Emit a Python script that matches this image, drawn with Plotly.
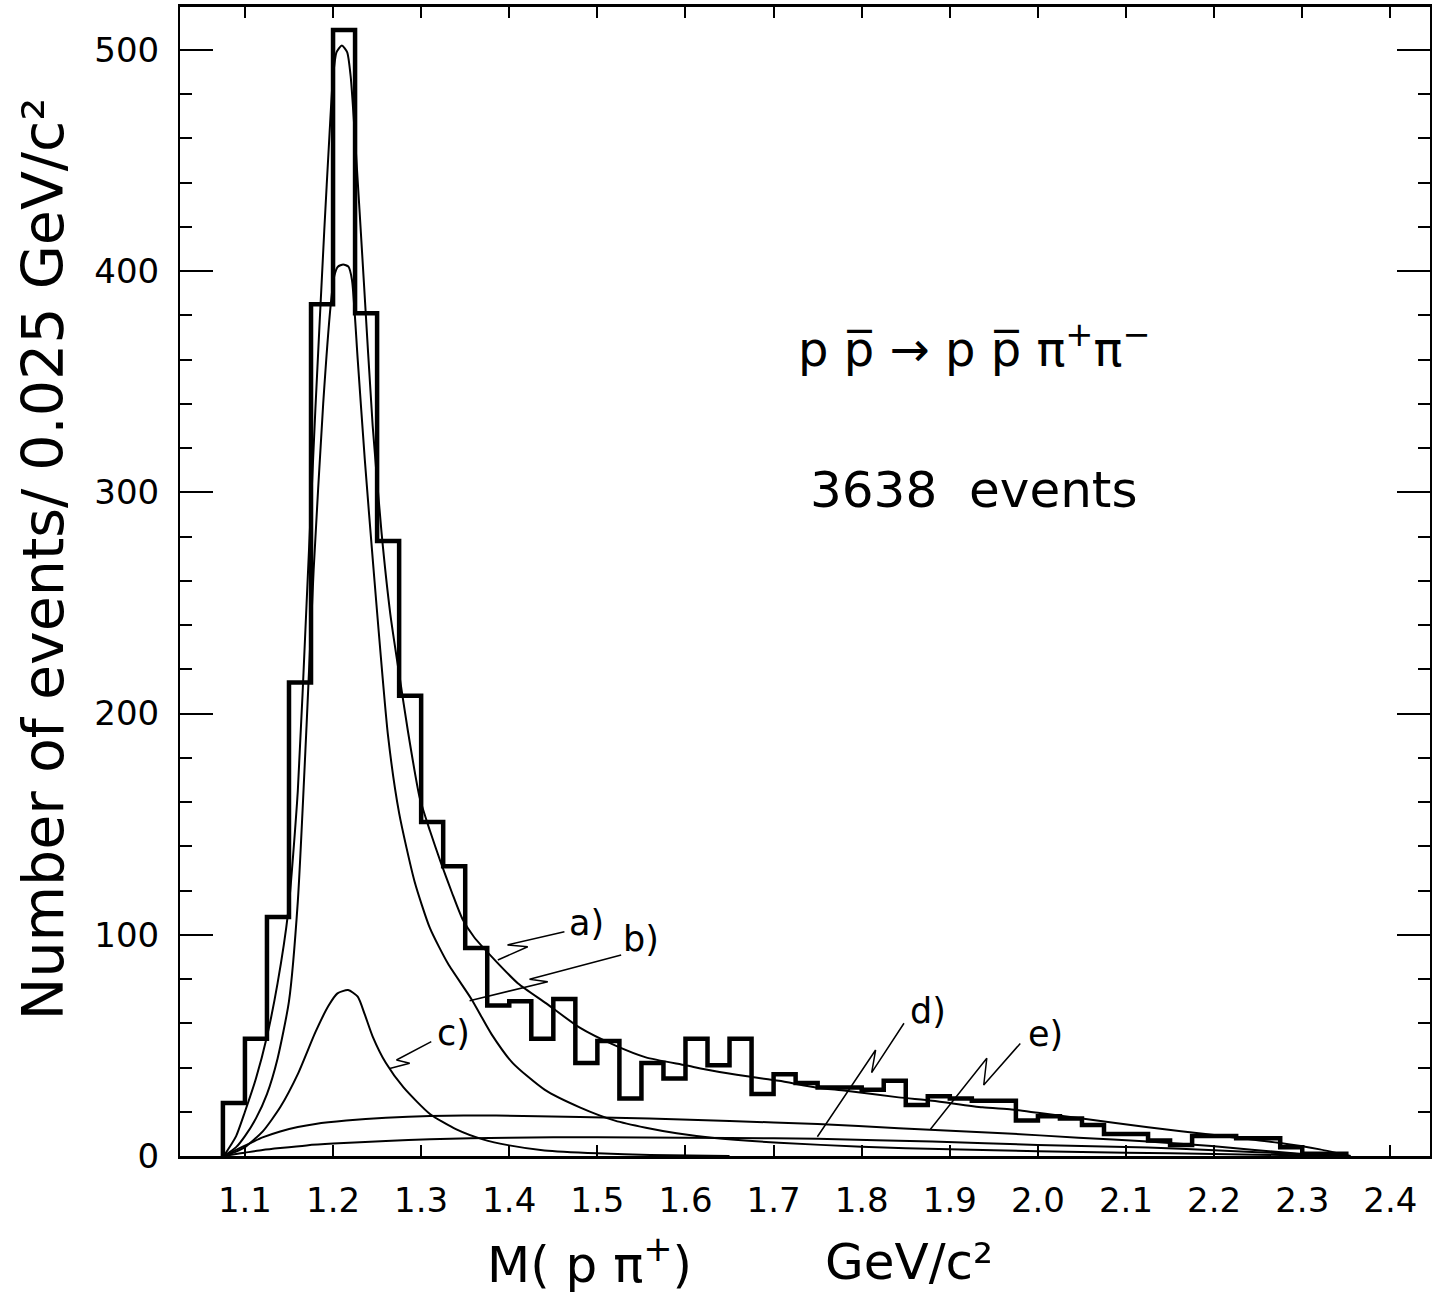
import plotly.graph_objects as go

# ---------------- data ----------------
bin_start = 1.075
bin_width = 0.025
counts = [24, 53, 108, 214, 385, 509, 381, 278, 208, 151,
          131, 94, 68, 70, 53, 71, 42, 52, 26, 42,
          35, 53, 41, 53, 28, 37, 33, 31, 31, 30,
          34, 23, 27, 26, 25, 25, 16, 18, 17, 14,
          10, 10, 7, 5, 9, 9, 8, 8, 4, 1, 1]

# fit curves (sampled along the drawn curves)
xa = [1.076, 1.09, 1.10, 1.1125, 1.125, 1.137, 1.149, 1.16, 1.17, 1.18, 1.19, 1.196, 1.20, 1.204,
      1.210, 1.216, 1.220, 1.225, 1.235, 1.245, 1.255, 1.265, 1.275, 1.285, 1.2983, 1.31, 1.322,
      1.335, 1.347, 1.36, 1.385, 1.41, 1.442, 1.48, 1.52, 1.555, 1.60, 1.631, 1.67, 1.706, 1.748,
      1.782, 1.842, 1.88, 1.937, 1.97, 2.0, 2.05, 2.125, 2.2, 2.273, 2.32, 2.355]
ya = [0, 9, 20, 35, 54, 78, 110, 165, 250, 338, 418, 462, 488, 499,
      502, 499, 488, 460, 395, 330, 282, 245, 218, 192, 162, 147, 133,
      119, 107, 99, 88, 78, 69, 58, 50, 44.6, 41, 38.5, 36, 34, 31,
      29.5, 26.5, 25, 22, 21, 19.5, 17, 13, 9.5, 6, 3, 0]

xb = [1.076, 1.09, 1.10, 1.1125, 1.125, 1.137, 1.15, 1.16, 1.17, 1.178, 1.1888, 1.1974, 1.2015,
      1.2055, 1.2115, 1.2175, 1.2215, 1.228, 1.236, 1.2454, 1.2624, 1.275, 1.2926, 1.31, 1.3304,
      1.357, 1.38, 1.404, 1.44, 1.48, 1.52, 1.555, 1.59, 1.63, 1.706, 1.8, 1.9, 2.0, 2.1, 2.2,
      2.3, 2.34]
yb = [0, 4, 9, 17, 28, 44, 70, 115, 195, 265, 340, 385, 398,
      402, 403, 402, 396, 360, 315, 268, 190, 155, 124, 103, 87,
      71, 55, 42, 30, 22, 16, 12.8, 10.3, 8.3, 6, 4.2, 3, 2.2, 1.5, 0.9,
      0.3, 0]

xc = [1.076, 1.09, 1.10, 1.12, 1.14, 1.16, 1.18, 1.195, 1.205, 1.2171, 1.228, 1.236, 1.245, 1.26,
      1.28, 1.31, 1.34, 1.37, 1.40, 1.44, 1.50, 1.56, 1.65]
yc = [0, 2, 4, 11, 22, 37, 56, 68, 73.5, 75, 72, 64, 54, 42,
      31, 19, 12, 7.5, 4.8, 2.5, 1.2, 0.5, 0]

xd = [1.076, 1.09, 1.10, 1.12, 1.14, 1.17, 1.20, 1.26, 1.31, 1.40, 1.50, 1.60, 1.70, 1.75,
      1.88, 2.0, 2.125, 2.2, 2.3, 2.335]
yd = [0, 0.9, 1.5, 2.7, 3.6, 4.8, 5.6, 6.8, 7.6, 8.3, 8.5, 8.3, 8.0, 7.8,
      6.5, 5.0, 3.8, 2.6, 0.8, 0]

xe = [1.076, 1.09, 1.105, 1.12, 1.14, 1.16, 1.18, 1.215, 1.26, 1.31, 1.385, 1.48, 1.559, 1.65,
      1.75, 1.842, 1.96, 2.046, 2.125, 2.197, 2.29, 2.33]
ye = [0, 2.8, 5.6, 8.4, 11.1, 13.1, 14.5, 16, 17.3, 18.1, 18.3, 17.6, 17, 15.8,
      14.5, 12.6, 10.3, 8.3, 6.6, 4.5, 1.2, 0]

# curve labels and their zig-zag pointers
label_names = ["a)", "b)", "c)", "d)", "e)"]
label_x = [1.488, 1.550, 1.337, 1.875, 2.009]
label_y = [105.4, 98.0, 55.5, 65.6, 55.0]
pointer_x = [[1.387, 1.421, 1.398, 1.4626],
             [1.355, 1.4437, 1.423, 1.527],
             [1.2643, 1.287, 1.272, 1.3115],
             [1.7497, 1.8158, 1.8113, 1.848],
             [1.878, 1.942, 1.9385, 1.98]]
pointer_y = [[88.6, 94.6, 95.4, 101.4],
             [70.2, 78.8, 79.9, 90.9],
             [39.6, 41.9, 43.4, 51.7],
             [8.7, 47.9, 37.7, 60.0],
             [12.1, 44.2, 32.1, 50.9]]

x_ticks = [1.1, 1.2, 1.3, 1.4, 1.5, 1.6, 1.7, 1.8, 1.9, 2.0, 2.1, 2.2, 2.3, 2.4]
x_ticktext = ["1.1", "1.2", "1.3", "1.4", "1.5", "1.6", "1.7", "1.8", "1.9", "2.0",
              "2.1", "2.2", "2.3", "2.4"]
y_ticks = [0, 100, 200, 300, 400, 500]
y_ticktext = ["0", "100", "200", "300", "400", "500"]

reaction_text = "p p\u0305 \u2192 p p\u0305 \u03c0<sup>+</sup>\u03c0<sup>\u2212</sup>"
events_text = "3638  events"
y_title = "Number of events/ 0.025 GeV/c\u00b2"
x_title_left = "M( p \u03c0<sup>+</sup>)"
x_title_right = "GeV/c\u00b2"

# ---------------- figure ----------------
FONT = "DejaVu Sans"
edges = [bin_start + i * bin_width for i in range(len(counts) + 1)]
hx = [edges[0]] + edges
hy = [0] + counts + [0]

fig = go.Figure()

for cx, cy in [(xa, ya), (xb, yb), (xc, yc), (xd, yd), (xe, ye)]:
    fig.add_trace(go.Scatter(x=cx, y=cy, mode="lines",
                             line=dict(color="black", width=2, shape="spline", smoothing=0.6),
                             hoverinfo="skip", showlegend=False))

fig.add_trace(go.Scatter(x=hx, y=hy, mode="lines",
                         line=dict(color="black", width=4.5, shape="hv"),
                         hoverinfo="skip", showlegend=False))

for px, py in zip(pointer_x, pointer_y):
    fig.add_trace(go.Scatter(x=px, y=py, mode="lines",
                             line=dict(color="black", width=1.5),
                             hoverinfo="skip", showlegend=False))

annotations = []
for name, lx, ly in zip(label_names, label_x, label_y):
    annotations.append(dict(x=lx, y=ly, xref="x", yref="y", text=name, showarrow=False,
                            font=dict(family=FONT, size=35, color="black"),
                            xanchor="center", yanchor="middle"))

annotations.append(dict(x=1.927, y=366, xref="x", yref="y", text=reaction_text,
                        showarrow=False, font=dict(family=FONT, size=48, color="black"),
                        xanchor="center", yanchor="middle"))
annotations.append(dict(x=1.927, y=301, xref="x", yref="y", text=events_text,
                        showarrow=False, font=dict(family=FONT, size=50, color="black"),
                        xanchor="center", yanchor="middle"))
annotations.append(dict(x=-0.110, y=0.519, xref="paper", yref="paper", text=y_title,
                        textangle=-90, showarrow=False,
                        font=dict(family=FONT, size=57, color="black"),
                        xanchor="center", yanchor="middle"))
annotations.append(dict(x=0.3275, y=-0.092, xref="paper", yref="paper", text=x_title_left,
                        showarrow=False, font=dict(family=FONT, size=50, color="black"),
                        xanchor="center", yanchor="middle"))
annotations.append(dict(x=0.583, y=-0.092, xref="paper", yref="paper", text=x_title_right,
                        showarrow=False, font=dict(family=FONT, size=50, color="black"),
                        xanchor="center", yanchor="middle"))

fig.update_layout(
    width=1433, height=1296,
    margin=dict(l=180, r=1, t=7, b=140),
    paper_bgcolor="white", plot_bgcolor="white",
    showlegend=False,
    annotations=annotations,
    xaxis=dict(range=[1.0263, 2.445], tickmode="array", tickvals=x_ticks, ticktext=x_ticktext,
               ticks="inside", ticklen=11, tickwidth=2, tickcolor="black",
               showline=True, linewidth=3, linecolor="black", mirror="ticks",
               showgrid=False, zeroline=False,
               tickfont=dict(family=FONT, size=34, color="black"), ticklabelstandoff=12),
    yaxis=dict(range=[0, 519.4], tickmode="array", tickvals=y_ticks, ticktext=y_ticktext,
               ticks="inside", ticklen=33, tickwidth=2, tickcolor="black",
               minor=dict(ticks="inside", ticklen=12, tickwidth=2, tickcolor="black", dtick=20,
                          showgrid=False),
               showline=True, linewidth=2, linecolor="black", mirror="ticks",
               showgrid=False, zeroline=False,
               tickfont=dict(family=FONT, size=34, color="black"), ticklabelstandoff=12),
)

fig.write_html("out.html")
